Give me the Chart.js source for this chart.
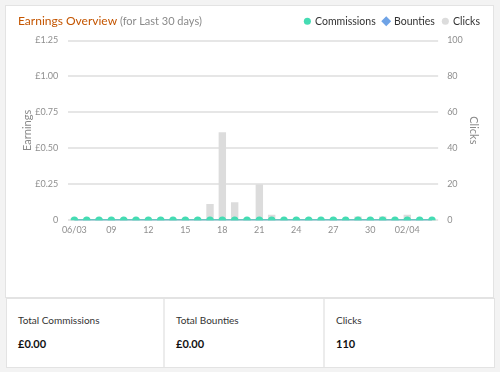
<!DOCTYPE html>
<html>
<head>
<meta charset="utf-8">
<script src="https://cdn.jsdelivr.net/npm/chart.js@4"></script>
<style>
    body { margin: 0; width: 500px; height: 372px; background: #f3f3f3; font-family: Lato, sans-serif; position: relative; overflow: hidden; }
    .card { position: absolute; left: 5px; top: 5px; width: 487px; height: 291px; background: #fff; border: 1px solid #e3e3e3; }
    .title { position: absolute; left: 12px; top: 7px; font-size: 12px; color: #c45500; white-space: nowrap; }
    .title span { color: #8a8a8a; font-size: 11px; }
    .chart-box { position: absolute; left: 0; top: 0; width: 487px; height: 291px; }
    .stats { position: absolute; left: 6px; top: 298px; width: 487px; height: 68px; display: flex; background: #fff; border: 1px solid #e3e3e3; }
    .stat { border-right: 2px solid #ececec; padding: 0 11px; box-sizing: border-box; }
    .stat:nth-child(1) { width: 158px; }
    .stat:nth-child(2) { width: 160px; }
    .stat:last-child { flex: 1; border-right: none; }
    .stat .label { margin-top: 15px; font-size: 10px; color: #333; }
    .stat .value { margin-top: 11px; font-size: 11px; font-weight: bold; color: #111; }
</style>
</head>
<body>
<div class="card">
    <div class="chart-box"><canvas id="earningsChart"></canvas></div>
    <div class="title">Earnings Overview <span>(for Last 30 days)</span></div>
</div>
<div class="stats">
    <div class="stat"><div class="label">Total Commissions</div><div class="value">£0.00</div></div>
    <div class="stat"><div class="label">Total Bounties</div><div class="value">£0.00</div></div>
    <div class="stat"><div class="label">Clicks</div><div class="value">110</div></div>
</div>
<script>
// Last 30 days, one entry per day
const dates = ['06/03', '07/03', '08/03', '09/03', '10/03', '11/03', '12/03', '13/03', '14/03', '15/03',
    '16/03', '17/03', '18/03', '19/03', '20/03', '21/03', '22/03', '23/03', '24/03', '25/03',
    '26/03', '27/03', '28/03', '29/03', '30/03', '31/03', '01/04', '02/04', '03/04', '04/04'];
const tickLabels = ['06/03', '', '', '09', '', '', '12', '', '', '15',
    '', '', '18', '', '', '21', '', '', '24', '',
    '', '27', '', '', '30', '', '', '02/04', '', ''];
const commissions = [0, 0, 0, 0, 0, 0, 0, 0, 0, 0, 0, 0, 0, 0, 0, 0, 0, 0, 0, 0, 0, 0, 0, 0, 0, 0, 0, 0, 0, 0];
const bounties = [0, 0, 0, 0, 0, 0, 0, 0, 0, 0, 0, 0, 0, 0, 0, 0, 0, 0, 0, 0, 0, 0, 0, 0, 0, 0, 0, 0, 0, 0];
const clicks = [1, 0, 1, 0, 1, 1, 0, 1, 0, 1, 1, 9, 49, 10, 1, 20, 3, 0, 1, 1, 0, 1, 0, 2, 1, 2, 0, 3, 0, 0];
const earningsTicks = [0, 0.25, 0.5, 0.75, 1, 1.25];
const clickTicks = [0, 20, 40, 60, 80, 100];

const tickFont = { family: 'Lato', size: 9 };
const tickColor = '#8f8f8f';
const titleFont = { family: 'Lato', size: 11 };

// extra space between legend and plot
const legendSpacing = {
    id: 'legendSpacing',
    beforeInit(chart) {
        const fit = chart.legend.fit;
        chart.legend.fit = function () {
            fit.bind(chart.legend)();
            this.height += 4;
        };
    }
};

const ctx = document.getElementById('earningsChart');
new Chart(ctx, {
    type: 'bar',
    data: {
        labels: dates,
        datasets: [
            {
                type: 'line',
                label: 'Commissions',
                data: commissions,
                yAxisID: 'y',
                borderColor: '#5ccab4',
                backgroundColor: '#45dcb3',
                pointBackgroundColor: '#45dcb3',
                pointBorderWidth: 0,
                pointRadius: 3.7,
                pointStyle: 'circle',
                borderWidth: 2,
                order: 0
            },
            {
                type: 'line',
                label: 'Bounties',
                data: bounties,
                yAxisID: 'y',
                borderColor: '#6fa3e6',
                backgroundColor: '#6fa3e6',
                pointRadius: 0,
                pointStyle: 'rectRot',
                borderWidth: 2,
                order: 1
            },
            {
                label: 'Clicks',
                data: clicks,
                yAxisID: 'y1',
                backgroundColor: '#dcdcdc',
                barPercentage: 0.6,
                categoryPercentage: 1,
                pointStyle: 'circle',
                order: 2
            }
        ]
    },
    plugins: [legendSpacing],
    options: {
        responsive: true,
        maintainAspectRatio: false,
        animation: false,
        layout: { padding: { left: 10, right: 5, top: 2, bottom: 58 } },
        plugins: {
            legend: {
                position: 'top',
                align: 'end',
                labels: {
                    usePointStyle: true,
                    boxWidth: 5,
                    boxHeight: 5,
                    padding: 8,
                    color: '#333',
                    font: { family: 'Lato', size: 10.5 }
                }
            },
            tooltip: { enabled: false }
        },
        scales: {
            x: {
                grid: { display: false, drawTicks: false },
                border: { display: false },
                ticks: {
                    autoSkip: false,
                    maxRotation: 0,
                    color: tickColor,
                    font: tickFont,
                    padding: 4,
                    callback: (value, index) => tickLabels[index]
                }
            },
            y: {
                position: 'left',
                min: 0,
                max: 1.25,
                afterBuildTicks: axis => { axis.ticks = earningsTicks.map(v => ({ value: v })); },
                afterFit: axis => { axis.width -= 11; }, // chart.js reserves tick padding twice
                grid: { color: '#e6e6e6', lineWidth: 2, drawTicks: false },
                border: { display: false },
                title: { display: true, text: 'Earnings', color: '#8a8a8a', font: titleFont, padding: { top: 5, bottom: 2 } },
                ticks: {
                    color: tickColor,
                    font: tickFont,
                    padding: 10,
                    callback: value => value === 0 ? '0' : '£' + value.toFixed(2)
                }
            },
            y1: {
                position: 'right',
                min: 0,
                max: 100,
                afterBuildTicks: axis => { axis.ticks = clickTicks.map(v => ({ value: v })); },
                afterFit: axis => { axis.width -= 7; },
                grid: { display: false, drawTicks: false },
                border: { display: false },
                title: { display: true, text: 'Clicks', color: '#8a8a8a', font: titleFont, padding: { top: 8, bottom: 2 } },
                ticks: {
                    color: tickColor,
                    font: tickFont,
                    padding: 9
                }
            }
        }
    }
});
</script>
</body>
</html>
